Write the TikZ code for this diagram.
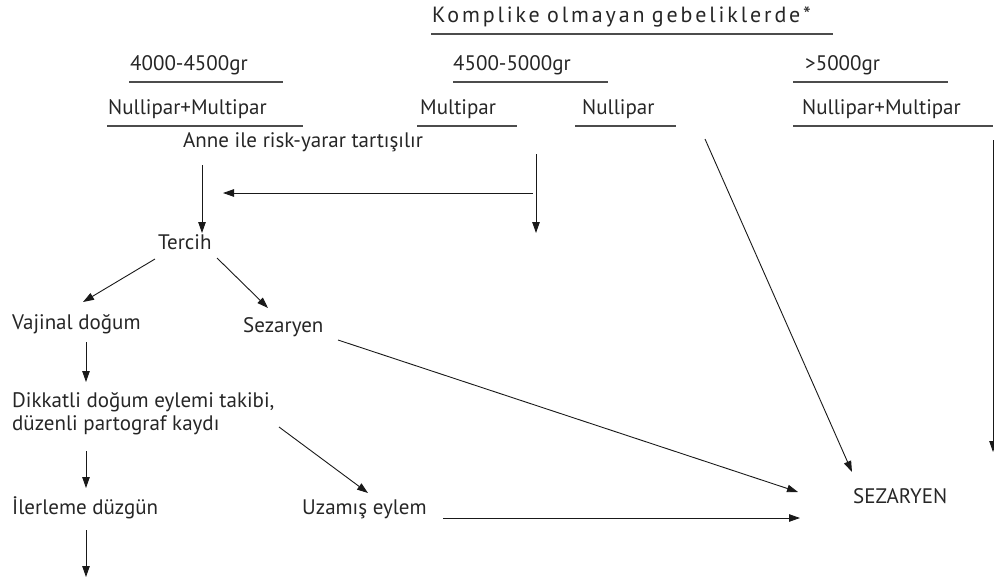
\documentclass[tikz,border=0pt]{standalone}
\usepackage{fontspec}
\setmainfont{PT Sans}
\usetikzlibrary{arrows.meta,positioning}

\begin{document}
\begin{tikzpicture}[x=1pt,y=-1pt]
            \tikzstyle{txt}=[anchor=mid west, inner sep=0pt, text=black!85, font=\fontsize{21}{23}\selectfont]
            \tikzstyle{rule}=[draw=black!70, line width=1.3pt]
            \tikzstyle{heading}=[anchor=south west, inner sep=0pt, align=left, text depth=11.5pt, text=black!85, font=\fontsize{21}{23}\selectfont, append after command={(\tikzlastnode.south west) edge[rule] (\tikzlastnode.south east)}]
            \tikzset{lead/.style={execute at begin node={\hspace*{#1}}}}
            \tikzstyle{connect}=[draw=black!90, line width=0.9pt, -{Triangle[length=11pt,width=7.5pt]}]
            \useasboundingbox (0,0) rectangle (994,581);

            % headings
            \node[heading, text width=402pt, lead=1pt, font=\fontsize{22}{24}\selectfont\addfontfeature{LetterSpace=13}] (title) at (431,34){\mbox{Komplike olmayan gebeliklerde*}};
            \node[heading, text width=154pt, lead=1pt] (W1) at (129,82){4000-4500gr};
            \node[heading, text width=155pt] (W2) at (453,82){4500-5000gr};
            \node[heading, text width=155pt, lead=12pt] (W3) at (793,82){>5000gr};
            \node[heading, text width=196pt, lead=1pt] (P1) at (107,126){Nullipar+Multipar};
            \node[heading, text width=100pt, lead=3pt] (P2) at (417,126){Multipar};
            \node[heading, text width=101pt, lead=7pt] (P3) at (575,126){Nullipar};
            \node[heading, text width=200pt, lead=9pt] (P4) at (793,126){Nullipar+Multipar};

            % steps
            \node[txt] (anne) at (183,145){Anne ile risk-yarar tartışılır};
            \node[txt] (tercih) at (158,247){Tercih};
            \node[txt] (vaj) at (12,327){Vajinal doğum};
            \node[txt] (sez) at (243,330){Sezaryen};
            \node[txt, anchor=north west, align=left] (dikkat) at (12,392){Dikkatli doğum eylemi takibi,\\düzenli partograf kaydı};
            \node[txt] (iler) at (12,512){İlerleme düzgün};
            \node[txt] (uzam) at (302,512){Uzamış eylem};
            \node[txt] (SEZ) at (853,501){SEZARYEN};

            \coordinate (mpend) at ([shift={(119,107)}]P2.south west);
            \coordinate (join) at ([shift={(40,48)}]anne.mid west);
            \coordinate (ilerend) at ([shift={(74,65)}]iler.mid west);
            \coordinate (nmend) at ([shift={(200,326)}]P4.south west);

            \path ([shift={(19,20)}]anne.mid west) edge [connect] ([shift={(44,-14)}]tercih.mid west);
            \path ([shift={(119,28)}]P2.south west) edge [connect] (mpend);
            \path ([shift={(116,67)}]P2.south west) edge [connect] (join);
            \path ([shift={(-3,12)}]tercih.mid west) edge [connect] ([shift={(71,-25)}]vaj.mid west);
            \path ([shift={(59,11)}]tercih.mid west) edge [connect] ([shift={(25,-22)}]sez.mid west);
            \path ([shift={(74,15)}]vaj.mid west) edge [connect] ([shift={(74,-10)}]dikkat.north west);
            \path ([shift={(74,59)}]dikkat.north west) edge [connect] ([shift={(74,-24)}]iler.mid west);
            \path ([shift={(267,35)}]dikkat.north west) edge [connect] ([shift={(66,-19)}]uzam.mid west);
            \path ([shift={(74,18)}]iler.mid west) edge [connect] (ilerend);
            \path ([shift={(141,6)}]uzam.mid west) edge [connect] ([shift={(-53,17)}]SEZ.mid west);
            \path ([shift={(95,10)}]sez.mid west) edge [connect] ([shift={(-55,-9)}]SEZ.mid west);
            \path ([shift={(130,13)}]P3.south west) edge [connect] ([shift={(-1,-29)}]SEZ.mid west);
            \path ([shift={(200,14)}]P4.south west) edge [connect] (nmend);

        \end{tikzpicture}
\end{document}
